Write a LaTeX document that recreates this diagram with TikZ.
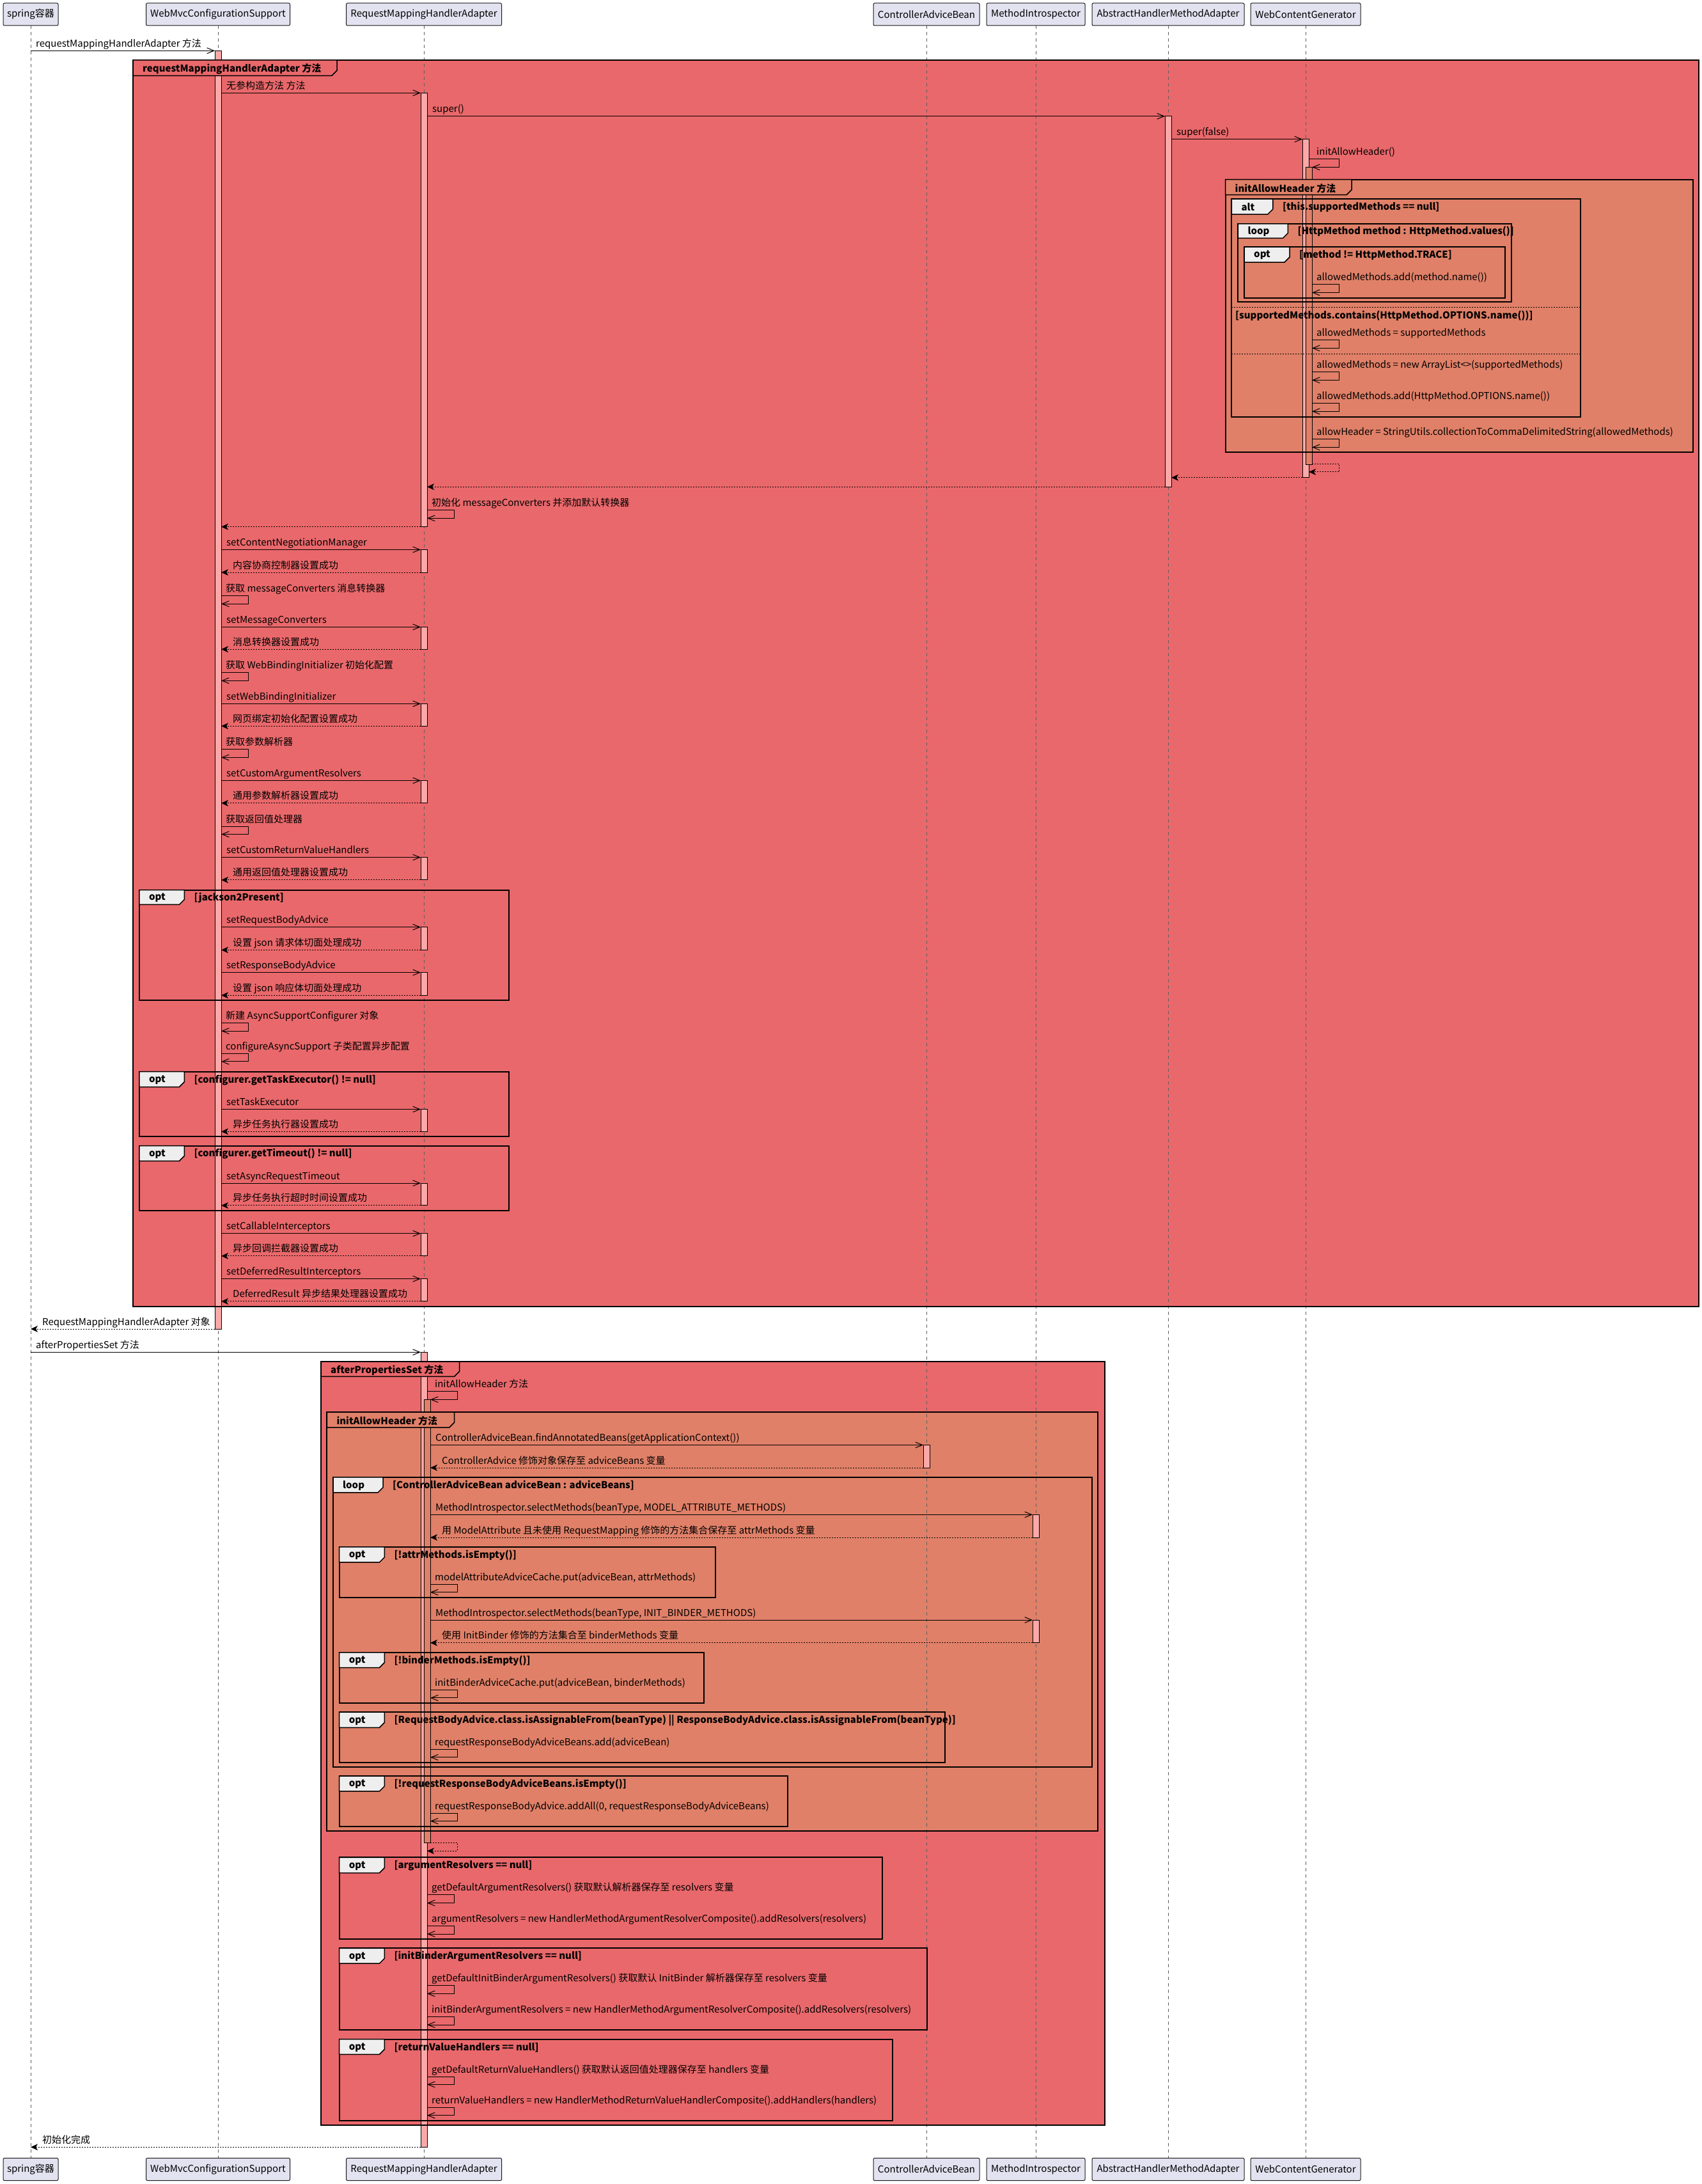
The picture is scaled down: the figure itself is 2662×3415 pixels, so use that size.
\documentclass[tikz,border=0pt]{standalone}
\usepackage{fontspec}
\setmainfont{Noto Sans CJK SC}
\usetikzlibrary{arrows.meta}
\definecolor{grpred}{RGB}{233,104,107}
\definecolor{grporange}{RGB}{224,128,104}
\definecolor{actpink}{RGB}{253,168,168}
\definecolor{tabgray}{RGB}{238,238,238}
\definecolor{partfill}{RGB}{226,226,240}
\definecolor{partline}{RGB}{24,24,24}
\tikzset{
  msgtext/.style={font=\fontsize{15}{18}\selectfont, inner sep=0pt, anchor=base west},
  fraglabel/.style={font=\fontsize{15}{18}\selectfont\bfseries, inner sep=0pt, anchor=west},
  callarrow/.style={draw=black, line width=1pt, -{Straight Barb[length=11pt,width=9pt,line width=1pt]}},
  retarrow/.style={draw=black, line width=1pt, dash pattern=on 2pt off 2pt, -{Stealth[length=11pt,width=10pt,inset=3pt]}},
  lifeline/.style={draw=partline!70, line width=1pt, dash pattern=on 5pt off 5pt},
  partbox/.style={draw=partline, fill=partfill, line width=1pt, rounded corners=2pt, minimum height=35pt, inner sep=0pt, font=\fontsize{15}{18}\selectfont},
  actline/.style={draw=black, line width=1pt},
  fragline/.style={draw=black, line width=2pt},
  tabline/.style={draw=black, line width=1.5pt},
  sepline/.style={draw=black, line width=1pt, dash pattern=on 2pt off 2pt},
}
\newcounter{mc}
\newcounter{fc}
\newcommand\msgcall[4]{%
  \stepcounter{mc}%
  \coordinate (ca\themc) at (#1,#3);
  \coordinate (cb\themc) at (#2,#3);
  \draw[callarrow] (ca\themc) -- (cb\themc);
  \node[msgtext] (ct\themc) at (#1+8,#3-6) {#4};
}
\newcommand\msgret[4]{%
  \stepcounter{mc}%
  \coordinate (ra\themc) at (#1,#3);
  \coordinate (rb\themc) at (#2,#3);
  \draw[retarrow] (ra\themc) -- (rb\themc);
  \node[msgtext] (rt\themc) at (#2+18,#3-6) {#4};
}
\newcommand\msgretplain[3]{%
  \stepcounter{mc}%
  \coordinate (ra\themc) at (#1,#3);
  \coordinate (rb\themc) at (#2,#3);
  \draw[retarrow] (ra\themc) -- (rb\themc);
}
\newcommand\msgself[6]{%
  \stepcounter{mc}%
  \coordinate (sa\themc) at (#1,#4);
  \coordinate (sb\themc) at (#2,#4);
  \coordinate (sc\themc) at (#2,#5);
  \coordinate (sd\themc) at (#3,#5);
  \draw[callarrow] (sa\themc) -- (sb\themc) -- (sc\themc) -- (sd\themc);
  \node[msgtext] (st\themc) at (#3+7,#4-6) {#6};
}
\newcommand\msgselfret[5]{%
  \stepcounter{mc}%
  \coordinate (sa\themc) at (#1,#4);
  \coordinate (sb\themc) at (#2,#4);
  \coordinate (sc\themc) at (#2,#5);
  \coordinate (sd\themc) at (#3,#5);
  \draw[retarrow] (sa\themc) -- (sb\themc) -- (sc\themc) -- (sd\themc);
}
\newcommand\actbar[4][actpink]{\draw[actline, fill=#1] (#2-5,#3) rectangle (#2+5,#4);}
\newcommand\fragbox[8]{%
  \stepcounter{fc}%
  \draw[fragline] (#1,#2) rectangle (#3,#4);
  \draw[tabline, fill=tabgray] (#1,#2) -- (#5,#2) -- (#5,#6-8) -- (#5-8,#6) -- (#1,#6) -- cycle;
  \node[fraglabel] (fk\thefc) at (#1+15,{(#2+#6)/2+1}) {#7};
  \node[fraglabel] (fq\thefc) at (#5+15,{(#2+#6)/2+1}) {#8};
}
\newcommand\grpframe[8]{%
  \stepcounter{fc}%
  \draw[fragline] (#1,#2) rectangle (#3,#4);
  \draw[tabline, fill=#7] (#1,#2) -- (#5,#2) -- (#5,#6-8) -- (#5-8,#6) -- (#1,#6) -- cycle;
  \node[fraglabel] (gk\thefc) at (#1+15,{(#2+#6)/2+2}) {#8};
}
\begin{document}
\begin{tikzpicture}[x=1pt,y=-1pt]
\useasboundingbox (0,0) rectangle (2662,3415);
\fill[white] (0,0) rectangle (2662,3415);
% group fills
\fill[grpred] (208,94) rectangle (2657,2043);
\fill[grporange] (1916.5,280.6) rectangle (2647.7,707.2);
\fill[grpred] (502,2129) rectangle (1727.6,3323.4);
\fill[grporange] (511.3,2208) rectangle (1717,2863.2);
% participants
\node[partbox, minimum width=86pt] (p1t) at (48,22.5) {spring容器};
\node[partbox, minimum width=225pt] (p2t) at (341,22.5) {WebMvcConfigurationSupport};
\node[partbox, minimum width=243pt] (p3t) at (663,22.5) {RequestMappingHandlerAdapter};
\node[partbox, minimum width=166pt] (p4t) at (1449,22.5) {ControllerAdviceBean};
\node[partbox, minimum width=154pt] (p5t) at (1620,22.5) {MethodIntrospector};
\node[partbox, minimum width=238pt] (p6t) at (1827,22.5) {AbstractHandlerMethodAdapter};
\node[partbox, minimum width=172pt] (p7t) at (2042,22.5) {WebContentGenerator};
\node[partbox, minimum width=86pt] (p1b) at (48,3392) {spring容器};
\node[partbox, minimum width=225pt] (p2b) at (341,3392) {WebMvcConfigurationSupport};
\node[partbox, minimum width=243pt] (p3b) at (663,3392) {RequestMappingHandlerAdapter};
\node[partbox, minimum width=166pt] (p4b) at (1449,3392) {ControllerAdviceBean};
\node[partbox, minimum width=154pt] (p5b) at (1620,3392) {MethodIntrospector};
\node[partbox, minimum width=238pt] (p6b) at (1827,3392) {AbstractHandlerMethodAdapter};
\node[partbox, minimum width=172pt] (p7b) at (2042,3392) {WebContentGenerator};
\foreach \i in {1,...,7} {\draw[lifeline] (p\i t.south) -- (p\i b.north);}
% activations
\actbar{341}{79.3}{2078}
\actbar{663}{145.3}{823.7}
\actbar{1827}{181.7}{761.2}
\actbar{2042}{217.7}{746.8}
\actbar[grporange]{2047}{261.4}{726.4}
\actbar{663}{859.4}{895}
\actbar{663}{980.4}{1015.2}
\actbar{663}{1100.4}{1135.3}
\actbar{663}{1220.5}{1255.8}
\actbar{663}{1340.6}{1375.9}
\actbar{663}{1449.6}{1485.4}
\actbar{663}{1520.6}{1556.3}
\actbar{663}{1734.5}{1769.3}
\actbar{663}{1850}{1884.9}
\actbar{663}{1928.7}{1963.9}
\actbar{663}{1999.6}{2034.9}
\actbar{663}{2114.3}{3357.3}
\actbar[grporange]{668}{2188.4}{2881.9}
\actbar{1449}{2259.4}{2295}
\actbar{1620}{2368.3}{2404}
\actbar{1620}{2533}{2568.75}
% fragments
\fragbox{1926.4}{311}{2472.4}{651.7}{1990.8}{335}{alt}{[this.supportedMethods == null]}
\fragbox{1936.3}{349.8}{2363.5}{472.3}{2014.4}{372.4}{loop}{[HttpMethod method : HttpMethod.values()]}
\fragbox{1946}{386}{2353.6}{465.6}{2017}{410}{opt}{[method != HttpMethod.TRACE]}
\coordinate (sepa1) at (1926.4,480.4);
\coordinate (sepb1) at (2472.4,480.4);
\draw[sepline] (sepa1) -- (sepb1);
\node[fraglabel] (altc2) at (1932,494) {[supportedMethods.contains(HttpMethod.OPTIONS.name())]};
\coordinate (sepa2) at (1926.4,553.7);
\coordinate (sepb2) at (2472.4,553.7);
\draw[sepline] (sepa2) -- (sepb2);
\fragbox{217.9}{1391.6}{796}{1563.9}{288.4}{1414.4}{opt}{[jackson2Present]}
\fragbox{217.9}{1675.5}{796}{1777.3}{288.4}{1699.6}{opt}{[configurer.getTaskExecutor() != null]}
\fragbox{217.9}{1791.6}{796}{1893.4}{288.4}{1815.3}{opt}{[configurer.getTimeout() != null]}
\fragbox{521}{2309.8}{1707.5}{2763.4}{599}{2333.9}{loop}{[ControllerAdviceBean adviceBean : adviceBeans]}
\fragbox{530.6}{2418.75}{1119}{2498.2}{601.4}{2442.9}{opt}{[!attrMethods.isEmpty()]}
\fragbox{530.6}{2583.9}{1100.6}{2663}{601.4}{2607.6}{opt}{[!binderMethods.isEmpty()]}
\fragbox{530.6}{2677.2}{1477.6}{2756.25}{601.4}{2701.3}{opt}{[RequestBodyAdvice.class.isAssignableFrom(beanType) || ResponseBodyAdvice.class.isAssignableFrom(beanType)]}
\fragbox{530.6}{2777.1}{1232.4}{2855.6}{601.4}{2800.9}{opt}{[!requestResponseBodyAdviceBeans.isEmpty()]}
\fragbox{530.6}{2904.4}{1379.5}{3032.4}{601.4}{2928.5}{opt}{[argumentResolvers == null]}
\fragbox{530.6}{3046.4}{1449.5}{3174}{601.4}{3070.2}{opt}{[initBinderArgumentResolvers == null]}
\fragbox{530.6}{3188.5}{1395.6}{3316.2}{601.4}{3212.3}{opt}{[returnValueHandlers == null]}
% group frames
\grpframe{208}{94}{2657}{2043}{527}{118.3}{grpred}{requestMappingHandlerAdapter 方法}
\grpframe{1916.5}{280.6}{2647.7}{707.2}{2114}{304.7}{grporange}{initAllowHeader 方法}
\grpframe{502}{2129}{1727.6}{3323.4}{718.7}{2152.3}{grpred}{afterPropertiesSet 方法}
\grpframe{511.3}{2208}{1717}{2863.2}{710.7}{2232}{grporange}{initAllowHeader 方法}
% messages
\msgcall{48}{336}{79.3}{requestMappingHandlerAdapter 方法}
\msgcall{346}{658}{145.3}{无参构造方法 方法}
\msgcall{668}{1822}{181.7}{super()}
\msgcall{1832}{2037}{217.7}{super(false)}
\msgself{2047}{2094.5}{2052}{248.4}{261.4}{initAllowHeader()}
\msgself{2052}{2094.5}{2052}{444.9}{457.5}{allowedMethods.add(method.name())}
\msgself{2052}{2094.5}{2052}{531.5}{544.4}{allowedMethods = supportedMethods}
\msgself{2052}{2094.5}{2052}{581.8}{594.4}{allowedMethods = new ArrayList<>(supportedMethods)}
\msgself{2052}{2094.5}{2052}{630.6}{643.2}{allowedMethods.add(HttpMethod.OPTIONS.name())}
\msgself{2052}{2094.5}{2052}{686.9}{699.4}{allowHeader = StringUtils.collectionToCommaDelimitedString(allowedMethods)}
\msgselfret{2052}{2094.5}{2047}{725}{737.9}
\msgretplain{2037}{1832}{746.8}
\msgretplain{1822}{668}{761.2}
\msgself{668}{710}{668}{797.8}{810.3}{初始化 messageConverters 并添加默认转换器}
\msgretplain{658}{346}{823.7}
\msgcall{346}{658}{859.4}{setContentNegotiationManager}
\msgret{658}{346}{895}{内容协商控制器设置成功}
\msgself{346}{388.4}{346}{931.7}{944.2}{获取 messageConverters 消息转换器}
\msgcall{346}{658}{980.4}{setMessageConverters}
\msgret{658}{346}{1015.2}{消息转换器设置成功}
\msgself{346}{388.4}{346}{1051.8}{1064.3}{获取 WebBindingInitializer 初始化配置}
\msgcall{346}{658}{1100.4}{setWebBindingInitializer}
\msgret{658}{346}{1135.3}{网页绑定初始化配置设置成功}
\msgself{346}{388.4}{346}{1171.9}{1184.4}{获取参数解析器}
\msgcall{346}{658}{1220.5}{setCustomArgumentResolvers}
\msgret{658}{346}{1255.8}{通用参数解析器设置成功}
\msgself{346}{388.4}{346}{1292}{1304.5}{获取返回值处理器}
\msgcall{346}{658}{1340.6}{setCustomReturnValueHandlers}
\msgret{658}{346}{1375.9}{通用返回值处理器设置成功}
\msgcall{346}{658}{1449.6}{setRequestBodyAdvice}
\msgret{658}{346}{1485.4}{设置 json 请求体切面处理成功}
\msgcall{346}{658}{1520.6}{setResponseBodyAdvice}
\msgret{658}{346}{1556.3}{设置 json 响应体切面处理成功}
\msgself{346}{388.4}{346}{1599.6}{1612.1}{新建 AsyncSupportConfigurer 对象}
\msgself{346}{388.4}{346}{1647.9}{1659.9}{configureAsyncSupport 子类配置异步配置}
\msgcall{346}{658}{1734.5}{setTaskExecutor}
\msgret{658}{346}{1769.3}{异步任务执行器设置成功}
\msgcall{346}{658}{1850}{setAsyncRequestTimeout}
\msgret{658}{346}{1884.9}{异步任务执行超时时间设置成功}
\msgcall{346}{658}{1928.7}{setCallableInterceptors}
\msgret{658}{346}{1963.9}{异步回调拦截器设置成功}
\msgcall{346}{658}{1999.6}{setDeferredResultInterceptors}
\msgret{658}{346}{2034.9}{DeferredResult 异步结果处理器设置成功}
\msgret{336}{48}{2078}{RequestMappingHandlerAdapter 对象}
\msgcall{48}{658}{2114.3}{afterPropertiesSet 方法}
\msgself{668}{715.5}{673}{2175.9}{2188.4}{initAllowHeader 方法}
\msgcall{673}{1444}{2259.4}{ControllerAdviceBean.findAnnotatedBeans(getApplicationContext())}
\msgret{1444}{673}{2295}{ControllerAdvice 修饰对象保存至 adviceBeans 变量}
\msgcall{673}{1615}{2368.3}{MethodIntrospector.selectMethods(beanType, MODEL\_ATTRIBUTE\_METHODS)}
\msgret{1615}{673}{2404}{用 ModelAttribute 且未使用 RequestMapping 修饰的方法集合保存至 attrMethods 变量}
\msgself{673}{715.5}{673}{2477.2}{2489.7}{modelAttributeAdviceCache.put(adviceBean, attrMethods)}
\msgcall{673}{1615}{2533}{MethodIntrospector.selectMethods(beanType, INIT\_BINDER\_METHODS)}
\msgret{1615}{673}{2568.75}{使用 InitBinder 修饰的方法集合至 binderMethods 变量}
\msgself{673}{715.5}{673}{2642.4}{2654.9}{initBinderAdviceCache.put(adviceBean, binderMethods)}
\msgself{673}{715.5}{673}{2735.3}{2747.8}{requestResponseBodyAdviceBeans.add(adviceBean)}
\msgself{673}{715.5}{673}{2835.7}{2847.5}{requestResponseBodyAdvice.addAll(0, requestResponseBodyAdviceBeans)}
\msgselfret{673}{715.5}{668}{2881.9}{2894.2}
\msgself{668}{710}{668}{2962.9}{2975.6}{getDefaultArgumentResolvers() 获取默认解析器保存至 resolvers 变量}
\msgself{668}{710}{668}{3011.7}{3024}{argumentResolvers = new HandlerMethodArgumentResolverComposite().addResolvers(resolvers)}
\msgself{668}{710}{668}{3104.5}{3117.3}{getDefaultInitBinderArgumentResolvers() 获取默认 InitBinder 解析器保存至 resolvers 变量}
\msgself{668}{710}{668}{3153.3}{3166}{initBinderArgumentResolvers = new HandlerMethodArgumentResolverComposite().addResolvers(resolvers)}
\msgself{668}{710}{668}{3247}{3259.3}{getDefaultReturnValueHandlers() 获取默认返回值处理器保存至 handlers 变量}
\msgself{668}{710}{668}{3295.4}{3307.7}{returnValueHandlers = new HandlerMethodReturnValueHandlerComposite().addHandlers(handlers)}
\msgret{658}{48}{3357.3}{初始化完成}
\end{tikzpicture}
\end{document}
